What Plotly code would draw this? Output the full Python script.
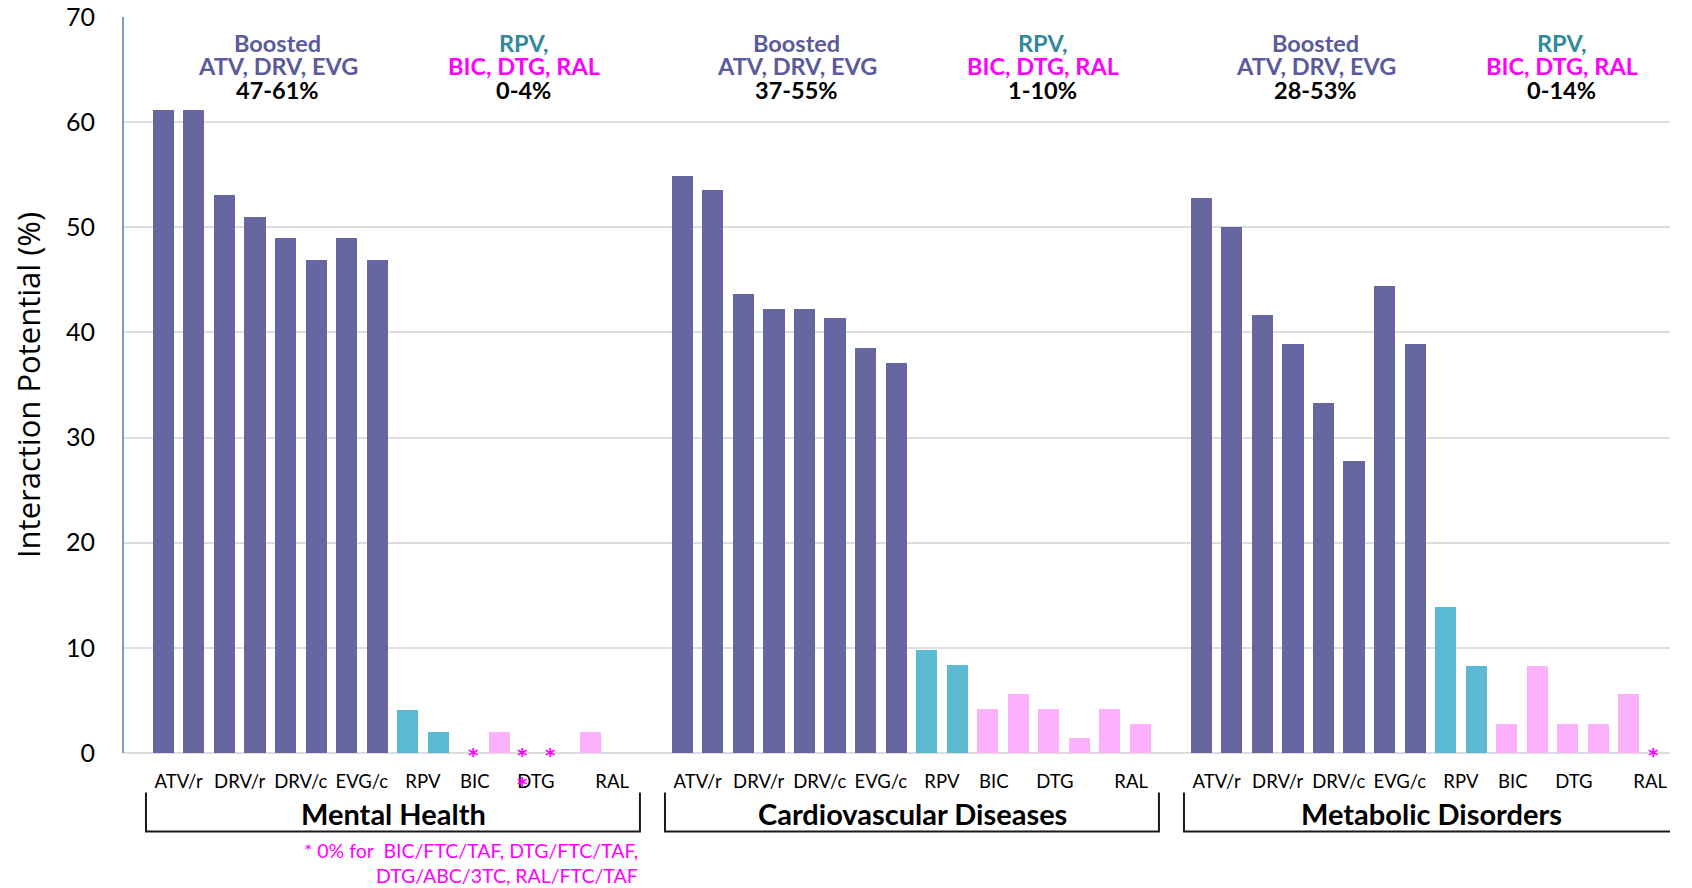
import plotly.graph_objects as go

# ---- data -------------------------------------------------------------
groups = ["Mental Health", "Cardiovascular Diseases", "Metabolic Disorders"]

# interaction potential (%) per ARV regimen, 16 bars per comorbidity group
# order: 8 boosted PI/INSTI, 2 RPV, 6 unboosted INSTI (BIC x2, DTG x2, RAL x2)
mental_health = [61.2, 61.2, 53.1, 51.0, 49.0, 46.9, 49.0, 46.9,
                 4.1, 2.0,
                 0.0, 2.0, 0.0, 0.0, 2.0, 0.0]
cardiovascular = [54.9, 53.5, 43.7, 42.2, 42.2, 41.4, 38.5, 37.1,
                  9.8, 8.4,
                  4.2, 5.6, 4.2, 1.4, 4.2, 2.8]
metabolic = [52.8, 50.0, 41.7, 38.9, 33.3, 27.8, 44.4, 38.9,
             13.9, 8.3,
             2.8, 8.3, 2.8, 2.8, 5.6, 0.0]
series = [mental_health, cardiovascular, metabolic]

bar_class = ["boosted"] * 8 + ["rpv"] * 2 + ["insti"] * 6

tick_labels = ["ATV/r", "DRV/r", "DRV/c", "EVG/c", "RPV", "BIC", "DTG", "RAL"]
tick_offsets = [0.5, 2.5, 4.5, 6.5, 8.5, 10.2, 12.2, 14.7]

range_labels = ["47-61%", "0-4%", "37-55%", "1-10%", "28-53%", "0-14%"]

footnotes = [["* 0% for  BIC/FTC/TAF, DTG/FTC/TAF,", "DTG/ABC/3TC, RAL/FTC/TAF"],
             [],
             ["* 0% for RAL/FTC/TAF"]]

# zero-valued bars flagged with an asterisk: (group, slot, x nudge, pixel drop)
zero_flags = [(0, 10, 0.15, 0), (0, 12, -0.23, 0), (0, 13, -0.31, 0),
              (0, 15, -3.23, 29), (2, 15, -0.18, 0)]

# ---- styling ------------------------------------------------------------
colors = {"boosted": "#6667A0", "rpv": "#5BB9D1", "insti": "#FCB1FC"}
names = {"boosted": "Boosted ATV, DRV, EVG", "rpv": "RPV", "insti": "BIC, DTG, RAL"}
LABEL_FONT = "Lato, Carlito, Calibri, sans-serif"
GROUP_STRIDE = 17          # 16 bars + one empty slot between groups
MAGENTA = "#FF00FF"

fig = go.Figure()

for cls in ["boosted", "rpv", "insti"]:
    xs, ys = [], []
    for g, vals in enumerate(series):
        for i, v in enumerate(vals):
            if bar_class[i] == cls:
                xs.append(g * GROUP_STRIDE + i)
                ys.append(v)
    fig.add_trace(go.Bar(x=xs, y=ys, name=names[cls], width=0.69,
                         marker=dict(color=colors[cls], line=dict(width=0)),
                         showlegend=False))

tickvals, ticktext = [], []
for g in range(len(groups)):
    for off, lab in zip(tick_offsets, tick_labels):
        tickvals.append(g * GROUP_STRIDE + off)
        ticktext.append(lab)

annotations = []
for g, grp in enumerate(groups):
    x0 = g * GROUP_STRIDE
    # header blocks above the bars
    head_left = ["Boosted", "ATV, DRV, EVG", range_labels[2 * g]]
    head_right = ["RPV,", "BIC, DTG, RAL", range_labels[2 * g + 1]]
    left_cols = ["#5B5B9B", "#5B5B9B", "#000000"]
    right_cols = ["#31899C", MAGENTA, "#000000"]
    for k, yv in enumerate([67.53, 65.31, 63.1]):
        annotations.append(dict(x=x0 + 3.75, y=yv, xref="x", yref="y",
                                text=f"<b>{head_left[k]}</b>", showarrow=False,
                                font=dict(family=LABEL_FONT, size=23.5, color=left_cols[k]),
                                xanchor="center", yanchor="middle"))
        annotations.append(dict(x=x0 + 11.8, y=yv, xref="x", yref="y",
                                text=f"<b>{head_right[k]}</b>", showarrow=False,
                                font=dict(family=LABEL_FONT, size=23.5, color=right_cols[k]),
                                xanchor="center", yanchor="middle"))
    # group name under the bracket
    annotations.append(dict(x=x0 + 7.55, y=-0.0825, xref="x", yref="paper",
                            text=f"<b>{grp}</b>", showarrow=False,
                            font=dict(family=LABEL_FONT, size=29, color="#000000"),
                            xanchor="center", yanchor="middle"))
    right_end = x0 + (15.61 if g == 0 else 15.75)
    for k, line in enumerate(footnotes[g]):
        annotations.append(dict(x=right_end, y=-0.1325 - 0.034 * k, xref="x", yref="paper",
                                text=line, showarrow=False, align="right",
                                font=dict(family=LABEL_FONT, size=19.5, color=MAGENTA),
                                xanchor="right", yanchor="middle"))

for g, slot, dx, drop in zero_flags:
    annotations.append(dict(x=g * GROUP_STRIDE + slot + dx, y=series[g][slot],
                            xref="x", yref="y", text="<b>*</b>", showarrow=False,
                            font=dict(family="DejaVu Sans, sans-serif", size=20, color=MAGENTA),
                            xanchor="center", yanchor="middle", yshift=-2 - drop))

shapes = []
for g in range(len(groups)):
    x0 = g * GROUP_STRIDE - 0.57
    x1 = g * GROUP_STRIDE + (15.61 if g < 2 else 15.74)
    shapes.append(dict(type="path", xref="x", yref="paper",
                       path=f"M {x0},-0.0535 L {x0},-0.1065 L {x1},-0.1065 L {x1},-0.0535",
                       line=dict(color="#1A1A1A", width=2)))

fig.update_layout(
    width=1692, height=888,
    margin=dict(l=124, r=22, t=17, b=135),
    plot_bgcolor="white", paper_bgcolor="white",
    bargap=0,
    annotations=annotations,
    shapes=shapes,
    xaxis=dict(range=[-1.29, 49.35], tickmode="array", tickvals=tickvals,
               ticktext=ticktext, showgrid=False, zeroline=False,
               ticks="outside", ticklen=12, tickcolor="rgba(0,0,0,0)",
               tickfont=dict(family=LABEL_FONT, size=18.5, color="#000000"),
               showline=False, fixedrange=True, automargin=False),
    yaxis=dict(range=[0, 70], dtick=10, showgrid=True, gridcolor="#DDDDDD",
               gridwidth=2, zeroline=True, zerolinecolor="#DDDDDD", zerolinewidth=2,
               showline=True, linecolor="#7F9DC0", linewidth=2,
               tickfont=dict(family=LABEL_FONT, size=25, color="#000000"),
               ticklabelstandoff=22, automargin=False,
               title=dict(text="Interaction Potential (%)", standoff=16,
                          font=dict(family="Open Sans, sans-serif", size=31, color="#000000"))),
)

fig.write_html("out.html")
